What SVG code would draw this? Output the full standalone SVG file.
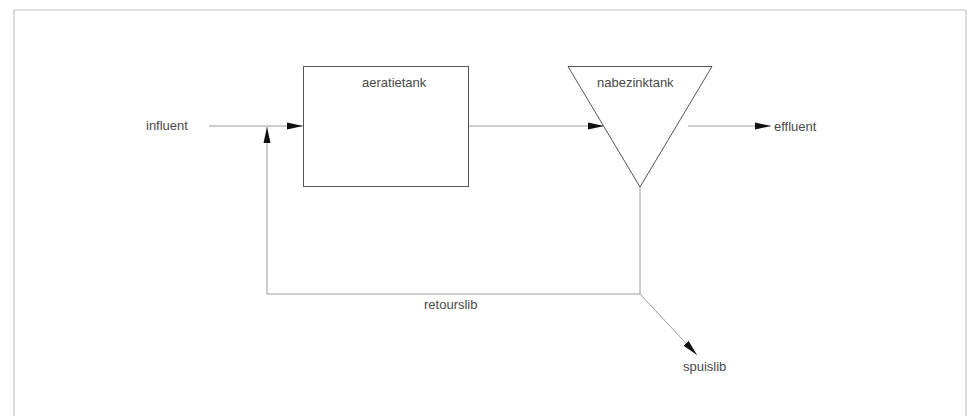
<svg xmlns="http://www.w3.org/2000/svg" width="971" height="416" viewBox="0 0 971 416">
<style>
.frame{fill:none;stroke:#c4c4c4;stroke-width:1.2}
.node{fill:#fff;stroke:#555;stroke-width:1}
.conn{fill:none;stroke:#9a9a9a;stroke-width:1}
.lbl{font-family:"Liberation Sans",Arial,sans-serif;font-size:13px;fill:#4a4a4a}
</style>
<defs>
<marker id="arr" viewBox="0 0 16 8" refX="16" refY="4" markerWidth="16" markerHeight="8" markerUnits="userSpaceOnUse" orient="auto">
<path d="M0,0.5 L16,4 L0,7.5 Z" fill="#111"/>
</marker>
</defs>
<rect x="0" y="0" width="971" height="416" fill="#fff"/>
<path class="frame" d="M14,420 L14,10 L966,10 L966,420"/>
<g id="connectors">
<line class="conn" x1="209" y1="126" x2="303" y2="126" marker-end="url(#arr)"/>
<polyline class="conn" points="640,187 640,294 267,294 267,127" marker-end="url(#arr)"/>
<line class="conn" x1="468" y1="126" x2="604" y2="126" marker-end="url(#arr)"/>
<line class="conn" x1="688" y1="126" x2="771" y2="126" marker-end="url(#arr)"/>
<line class="conn" x1="640" y1="294" x2="697" y2="355" marker-end="url(#arr)"/>
</g>
<g id="influent"><text class="lbl" x="146" y="130">influent</text></g>
<g id="aeratietank">
<rect class="node" x="303.5" y="66.5" width="165" height="120"/>
<text class="lbl" x="362" y="87">aeratietank</text>
</g>
<g id="nabezinktank">
<polygon class="node" points="568,66.5 712,66.5 640,187"/>
<text class="lbl" x="597" y="87">nabezinktank</text>
</g>
<g id="effluent"><text class="lbl" x="774" y="131">effluent</text></g>
<g id="retourslib"><text class="lbl" x="424" y="309">retourslib</text></g>
<g id="spuislib"><text class="lbl" x="683" y="371">spuislib</text></g>
</svg>
